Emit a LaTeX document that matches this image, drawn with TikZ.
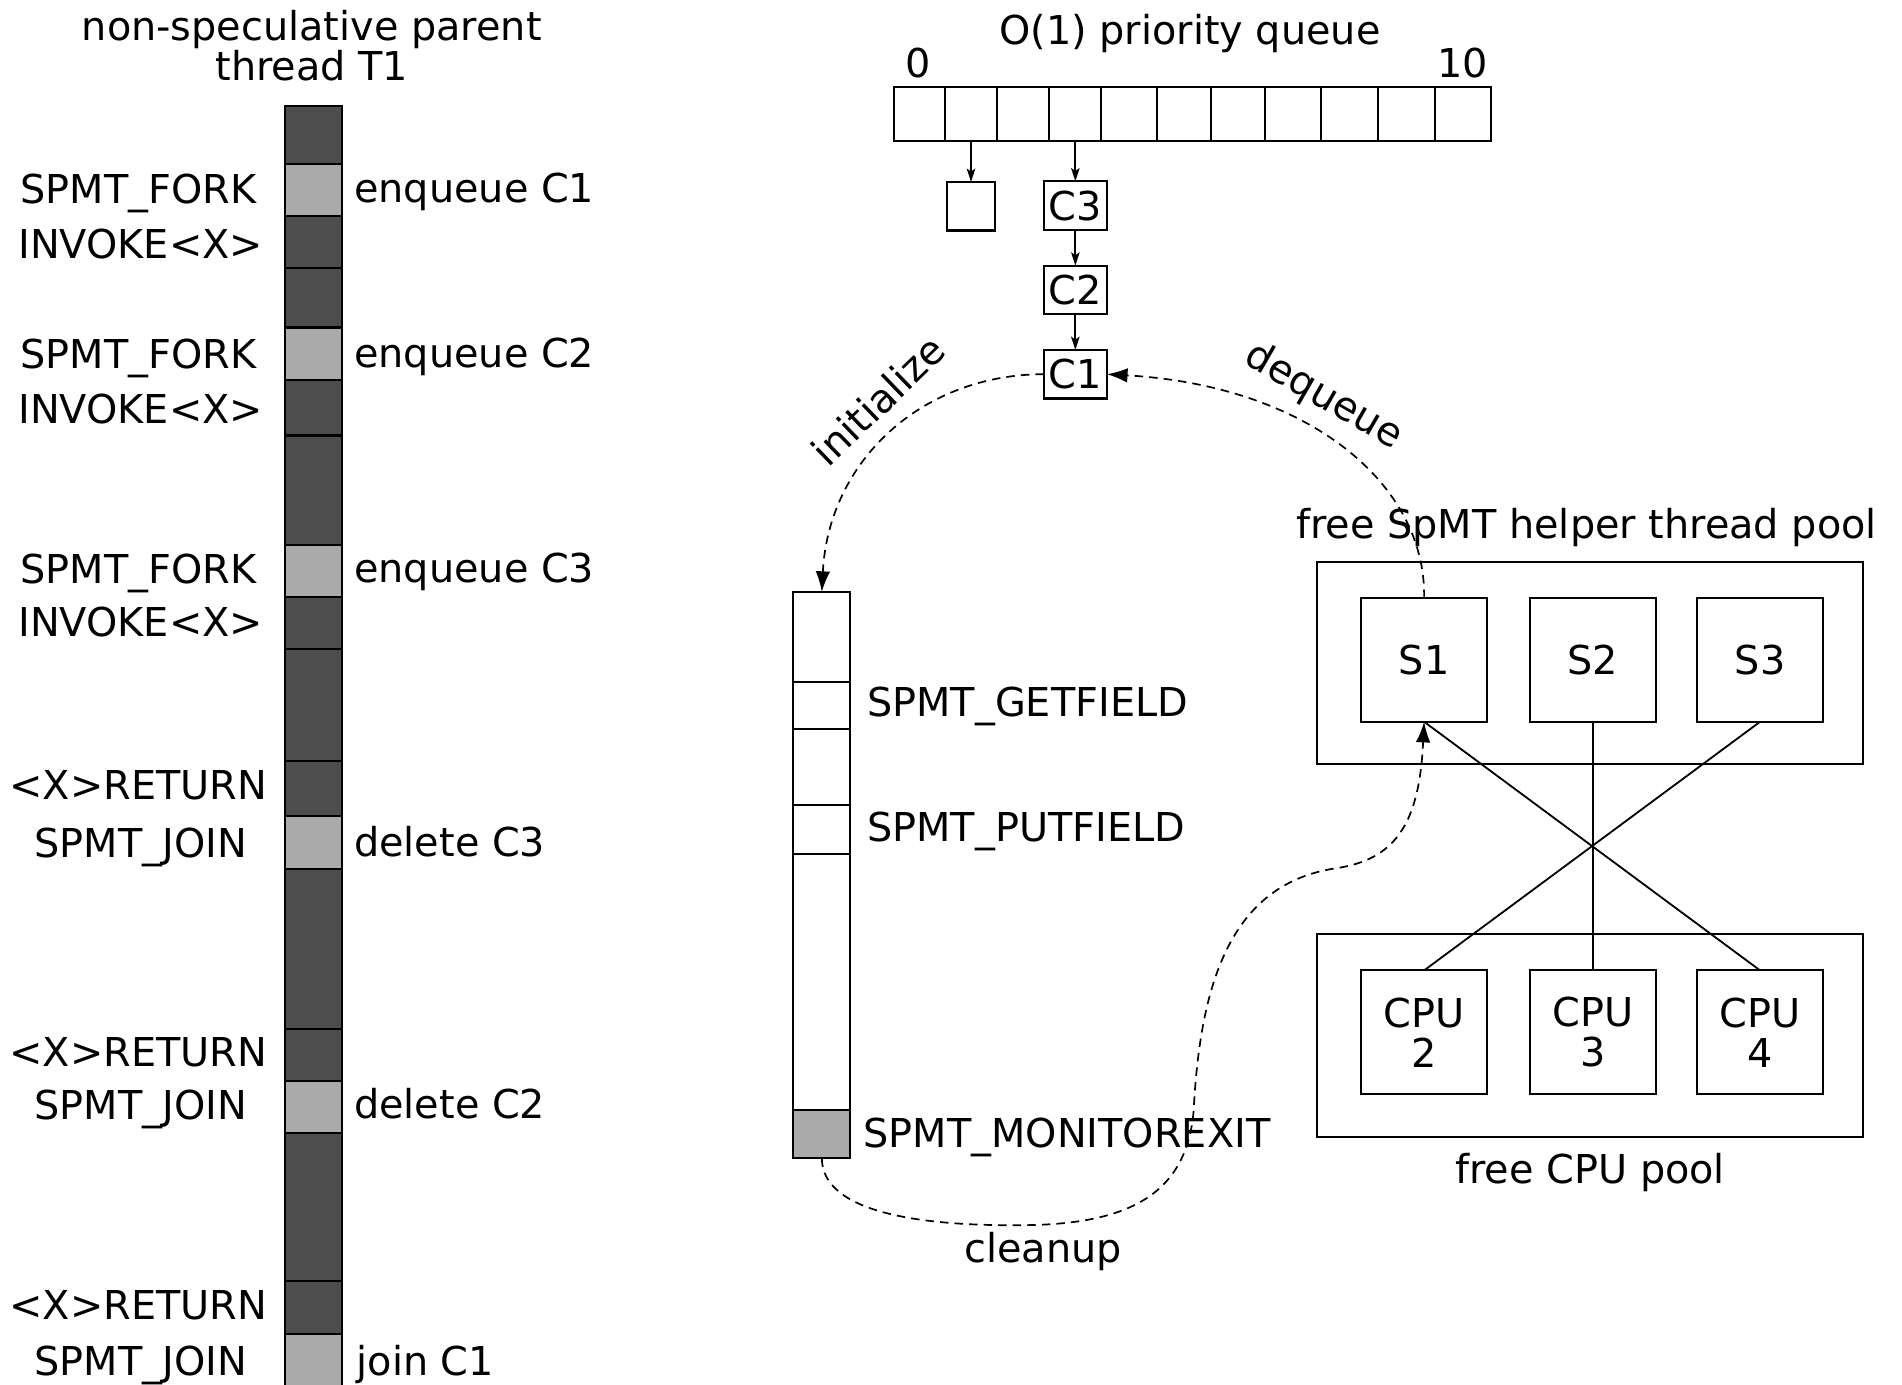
\documentclass[tikz,border=0pt]{standalone}
\usepackage{fontspec}
\setmainfont{DejaVu Sans}
\usetikzlibrary{arrows.meta}
\definecolor{darkcell}{HTML}{4D4D4D}
\definecolor{lightcell}{HTML}{AAAAAA}
\begin{document}
\begin{tikzpicture}[x=1pt,y=-1pt,
  every node/.style={font=\fontsize{32.8}{33}\selectfont, inner sep=0pt, outer sep=0pt},
  box/.style={draw, line width=1.7pt},
  dk/.style={box, fill=darkcell},
  lt/.style={box, fill=lightcell},
  wt/.style={box, fill=white},
  lbl/.style={anchor=base},
  lblw/.style={anchor=base west},
  conn/.style={line width=1.5pt, -{Stealth[length=11pt,width=7pt,inset=2.5pt]}},
  plainline/.style={line width=1.5pt},
  dashconn/.style={line width=1.4pt, dash pattern=on 7pt off 5pt, -{Latex[length=17pt,width=12pt]}}
]
\useasboundingbox (0,0) rectangle (1568,1141);
\clip (0,0) rectangle (1568,1141);

% ---------- left: parent thread ----------
\node[lbl] (tit1) at (257,33) {non-speculative parent};
\node[lbl] (tit2) at (257,66) {thread T1};

\foreach \t/\b/\s [count=\i] in {
  87/135/dk, 135/178/lt, 178/221/dk, 221/270/dk, 270/313/lt, 313/359/dk,
  359/449/dk, 449/492/lt, 492/535/dk, 535/627/dk, 627/673/dk, 673/716/lt,
  716/848/dk, 848/891/dk, 891/934/lt, 934/1056/dk, 1056/1100/dk, 1100/1160/lt}
  \node[\s, minimum width=47pt, minimum height={(\b-\t)*1pt}, anchor=north] (bar\i) at (258.5,\t) {};

\node[lbl] (l1) at (114,168) {SPMT\_FORK};
\node[lbl] (l2) at (116,213) {INVOKE<X>};
\node[lbl] (l3) at (114,304) {SPMT\_FORK};
\node[lbl] (l4) at (116,349) {INVOKE<X>};
\node[lbl] (l5) at (114,481) {SPMT\_FORK};
\node[lbl] (l6) at (116,525) {INVOKE<X>};
\node[lbl] (l7) at (114,659) {<X>RETURN};
\node[lbl] (l8) at (116,707) {SPMT\_JOIN};
\node[lbl] (l9) at (114,879) {<X>RETURN};
\node[lbl] (l10) at (116,923) {SPMT\_JOIN};
\node[lbl] (l11) at (114,1088) {<X>RETURN};
\node[lbl] (l12) at (116,1134) {SPMT\_JOIN};

\node[lblw] (r1) at (292,167) {enqueue C1};
\node[lblw] (r2) at (292,303) {enqueue C2};
\node[lblw] (r3) at (292,480) {enqueue C3};
\node[lblw] (r4) at (292,706) {delete C3};
\node[lblw] (r5) at (292,922) {delete C2};
\node[lblw] (r6) at (294,1134) {join C1};

% ---------- priority queue ----------
\node[lbl] (pqt) at (981,37) {O(1) priority queue};
\node[lbl] (pq0) at (757,64) {0};
\node[lbl] (pq10) at (1206,64) {10};
\foreach \l/\r [count=\i from 0] in {737/779, 779/822, 822/865, 865/908, 908/954,
  954/998, 998/1043, 1043/1089, 1089/1136, 1136/1183, 1183/1229}
  \node[box, minimum width={(\r-\l)*1pt}, minimum height=44pt, anchor=north west] (q\i) at (\l,72) {};

\node[box, minimum width=40pt, minimum height=40pt] (e1) at (800.5,170) {};
\node[box, minimum width=52pt, minimum height=40pt] (c3) at (886.5,169.5) {C3};
\node[box, minimum width=52pt, minimum height=40pt] (c2) at (886.5,239) {C2};
\node[box, minimum width=52pt, minimum height=40pt] (c1) at (886.5,308.5) {C1};

\draw[conn] (q1.south) -- (e1.north);
\draw[conn] (q3.south) -- (c3.north);
\draw[conn] (c3.south) -- (c2.north);
\draw[conn] (c2.south) -- (c1.north);

% ---------- method / speculative frame ----------
\foreach \t/\b/\s [count=\i] in {488/562/wt, 562/601/wt, 601/664/wt, 664/704/wt, 704/915/wt, 915/955/lt}
  \node[\s, minimum width=47pt, minimum height={(\b-\t)*1pt}, anchor=north] (m\i) at (677.5,\t) {};
\node[lblw] (g1) at (715,591) {SPMT\_GETFIELD};
\node[lblw] (g2) at (715,694) {SPMT\_PUTFIELD};
\node[lblw] (g3) at (712,946) {SPMT\_MONITOREXIT};

% ---------- pools ----------
\node[lbl] (hpt) at (1308,444) {free SpMT helper thread pool};
\node[box, minimum width=450pt, minimum height=167pt, anchor=north west] (hpool) at (1086,463) {};
\node[box, minimum width=104pt, minimum height=102pt] (s1) at (1174,544) {S1};
\node[box, minimum width=104pt, minimum height=102pt] (s2) at (1313,544) {S2};
\node[box, minimum width=104pt, minimum height=102pt] (s3) at (1451,544) {S3};

\node[box, minimum width=450pt, minimum height=167pt, anchor=north west] (cpool) at (1086,770) {};
\node[box, minimum width=104pt, minimum height=102pt, align=center] (cpu2) at (1174,851) {CPU\\2};
\node[box, minimum width=104pt, minimum height=102pt, align=center] (cpu3) at (1313,851) {CPU\\3};
\node[box, minimum width=104pt, minimum height=102pt, align=center] (cpu4) at (1451,851) {CPU\\4};
\node[lbl] (cpt) at (1311,976) {free CPU pool};

\draw[plainline] (s1.south) -- (cpu4.north);
\draw[plainline] (s2.south) -- (cpu3.north);
\draw[plainline] (s3.south) -- (cpu2.north);

% ---------- dashed flows ----------
\draw[dashconn] (c1.west) .. controls (760,308.5) and (683,380) .. (m1.north);
\node[rotate=44] (init) at (724,330) {initialize};

\draw[dashconn] (s1.north) .. controls (1176,400) and (1080,318) .. (c1.east);
\node[rotate=-30] (deq) at (1091,327) {dequeue};

\draw[dashconn] (m6.south) .. controls (678,1000) and (760,1011) .. (845,1010)
  .. controls (930,1009) and (978,985) .. (984,916)
  .. controls (989,820) and (1010,730) .. (1100,716)
  .. controls (1150,709) and (1170,680) .. (s1.south);
\node[lbl] (clean) at (860,1041) {cleanup};
\end{tikzpicture}
\end{document}
